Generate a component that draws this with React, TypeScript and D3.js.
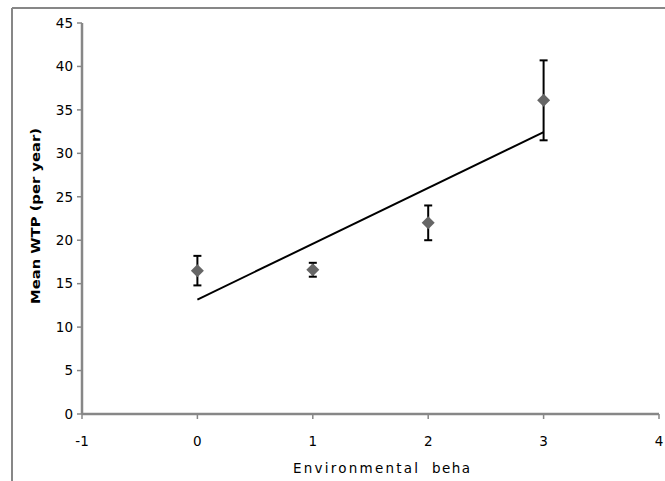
import React from "react";
import * as d3 from "d3";

const categories = [0, 1, 2, 3];
const means = [16.5, 16.6, 22.0, 36.1];
const errors = [1.7, 0.8, 2.0, 4.6];
const xTicks = [-1, 0, 1, 2, 3, 4];
const yTicks = [0, 5, 10, 15, 20, 25, 30, 35, 40, 45];
const xTitleWords = ["Environmental", "beha"];
const yTitle = "Mean WTP (per year)";

const W = 665;
const H = 481;

export default function App() {
  const x = d3.scaleLinear().domain([-1, 4]).range([82, 659]);
  const y = d3.scaleLinear().domain([0, 45]).range([414, 23]);

  // least squares trend
  const mx = d3.mean(categories) as number;
  const my = d3.mean(means) as number;
  let num = 0, den = 0;
  categories.forEach((c, i) => {
    num += (c - mx) * (means[i] - my);
    den += (c - mx) * (c - mx);
  });
  const slope = num / den;
  const icpt = my - slope * mx;
  const x0 = categories[0];
  const x1 = categories[categories.length - 1];
  const line = d3.line<[number, number]>().x(d => x(d[0])).y(d => y(d[1]));
  const trend = line([[x0, icpt + slope * x0], [x1, icpt + slope * x1]]) as string;

  const axisColor = "#878787";
  const font = "DejaVu Sans, Verdana, sans-serif";
  const d = 6.5;

  return (
    <svg width={W} height={H} style={{ position: "fixed", left: 0, top: 0, display: "block", background: "#fff" }}>
      {/* frame */}
      <line x1={12} y1={8} x2={W} y2={8} stroke={axisColor} strokeWidth={2} />
      <line x1={12} y1={8} x2={12} y2={H} stroke={axisColor} strokeWidth={2} />

      {/* y axis */}
      <line x1={x(-1)} y1={y(45)} x2={x(-1)} y2={y(0)} stroke={axisColor} strokeWidth={2.5} />
      {yTicks.map(t => (
        <g key={"y" + t}>
          <line x1={x(-1) - 5} x2={x(-1)} y1={y(t)} y2={y(t)} stroke={axisColor} strokeWidth={1.5} />
          <text x={x(-1) - 9} y={y(t)} dy="0.35em" textAnchor="end" fontFamily={font} fontSize={13.5} fill="#000">{t}</text>
        </g>
      ))}

      {/* x axis */}
      <line x1={x(-1)} y1={y(0)} x2={x(4)} y2={y(0)} stroke={axisColor} strokeWidth={2.5} />
      {xTicks.map(t => (
        <g key={"x" + t}>
          <line x1={x(t)} x2={x(t)} y1={y(0)} y2={y(0) + 5} stroke={axisColor} strokeWidth={1.5} />
          <text x={x(t)} y={y(0) + 32} textAnchor="middle" fontFamily={font} fontSize={13.5} fill="#000">{t}</text>
        </g>
      ))}

      {/* axis titles */}
      <text x={293} y={473} textLength={125} lengthAdjust="spacing" fontFamily={font} fontSize={13.5} fill="#000">{xTitleWords[0]}</text>
      <text x={432} y={473} textLength={38} lengthAdjust="spacing" fontFamily={font} fontSize={13.5} fill="#000">{xTitleWords[1]}</text>
      <text
        transform={`translate(40,${216}) rotate(-90)`}
        textAnchor="middle"
        fontFamily="DejaVu Sans, sans-serif"
        fontWeight={900}
        fontSize={13}
        textLength={176}
        lengthAdjust="spacingAndGlyphs"
        fill="#000"
      >{yTitle}</text>

      {/* trend line */}
      <path d={trend} fill="none" stroke="#000" strokeWidth={2} />

      {/* error bars */}
      {categories.map((c, i) => (
        <g key={"e" + c} stroke="#000" strokeWidth={2}>
          <line x1={x(c)} x2={x(c)} y1={y(means[i] + errors[i])} y2={y(means[i] - errors[i])} />
          <line x1={x(c) - 4} x2={x(c) + 4} y1={y(means[i] + errors[i])} y2={y(means[i] + errors[i])} />
          <line x1={x(c) - 4} x2={x(c) + 4} y1={y(means[i] - errors[i])} y2={y(means[i] - errors[i])} />
        </g>
      ))}

      {/* markers */}
      {categories.map((c, i) => {
        const cx = x(c), cy = y(means[i]);
        return (
          <path key={"m" + c} d={`M${cx},${cy - d}L${cx + d},${cy}L${cx},${cy + d}L${cx - d},${cy}Z`} fill="#666666" />
        );
      })}
    </svg>
  );
}
